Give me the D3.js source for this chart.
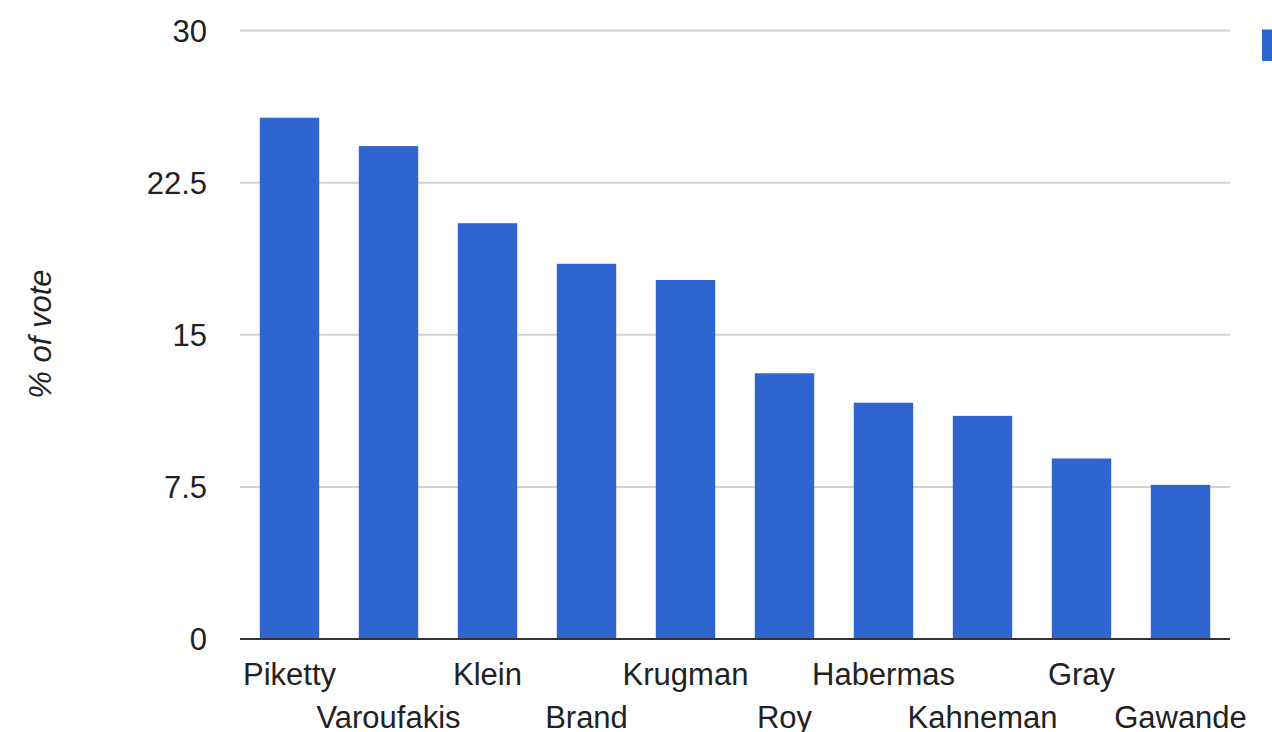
<!DOCTYPE html>
<html>
<head>
<meta charset="utf-8">
<script src="https://cdn.jsdelivr.net/npm/d3@7"></script>
<style>
  html, body { margin: 0; padding: 0; background: #fff; }
  svg { display: block; font-family: "Liberation Sans", Arial, sans-serif; }
</style>
</head>
<body>
<svg id="chart" width="1272" height="732"></svg>
<script>
const categories = ["Piketty", "Varoufakis", "Klein", "Brand", "Krugman", "Roy", "Habermas", "Kahneman", "Gray", "Gawande"];
const values = [25.7, 24.3, 20.5, 18.5, 17.7, 13.1, 11.65, 11.0, 8.9, 7.6];
const yTicks = [0, 7.5, 15, 22.5, 30];
const yTickLabels = ["0", "7.5", "15", "22.5", "30"];
const yTitle = "% of vote";

(function () {
const svg = d3.select("#chart");
const plotLeft = 240, plotRight = 1230, plotTop = 30.5, plotBottom = 639;
const barColor = "#3064cf";
const textColor = "#222";

const x = d3.scaleBand().domain(categories).range([plotLeft, plotRight]).paddingInner(0.4).paddingOuter(0.2);
const y = d3.scaleLinear().domain([0, 30]).range([plotBottom, plotTop]);

// gridlines
svg.append("g").selectAll("line").data(yTicks.filter(d => d !== 0)).join("line")
  .attr("x1", plotLeft).attr("x2", plotRight)
  .attr("y1", d => y(d)).attr("y2", d => y(d))
  .attr("stroke", "#d2d2d2").attr("stroke-width", 2);

// y tick labels
svg.append("g").selectAll("text").data(yTicks).join("text")
  .attr("x", 207).attr("y", d => y(d)).attr("dy", "0.36em")
  .attr("text-anchor", "end")
  .attr("font-size", 31).attr("fill", textColor)
  .text((d, i) => yTickLabels[i]);

// bars
svg.append("g").selectAll("rect").data(values).join("rect")
  .attr("x", (d, i) => x(categories[i]))
  .attr("width", x.bandwidth())
  .attr("y", d => y(d))
  .attr("height", d => y(0) - y(d))
  .attr("fill", barColor);

// baseline
svg.append("line")
  .attr("x1", plotLeft).attr("x2", plotRight)
  .attr("y1", y(0)).attr("y2", y(0))
  .attr("stroke", "#333").attr("stroke-width", 2);

// x labels, staggered
svg.append("g").selectAll("text").data(categories).join("text")
  .attr("x", d => x(d) + x.bandwidth() / 2)
  .attr("y", (d, i) => i % 2 === 0 ? 685 : 728)
  .attr("text-anchor", "middle")
  .attr("font-size", 31).attr("fill", textColor)
  .text(d => d);

// y axis title
svg.append("text")
  .attr("transform", "translate(51,334) rotate(-90)")
  .attr("text-anchor", "middle")
  .attr("font-size", 31).attr("font-style", "italic").attr("fill", textColor)
  .text(yTitle);

// legend marker (cut off at right edge)
svg.append("rect")
  .attr("x", 1262).attr("y", 29.5).attr("width", 32).attr("height", 31.5)
  .attr("fill", barColor);
})();
</script>
</body>
</html>
